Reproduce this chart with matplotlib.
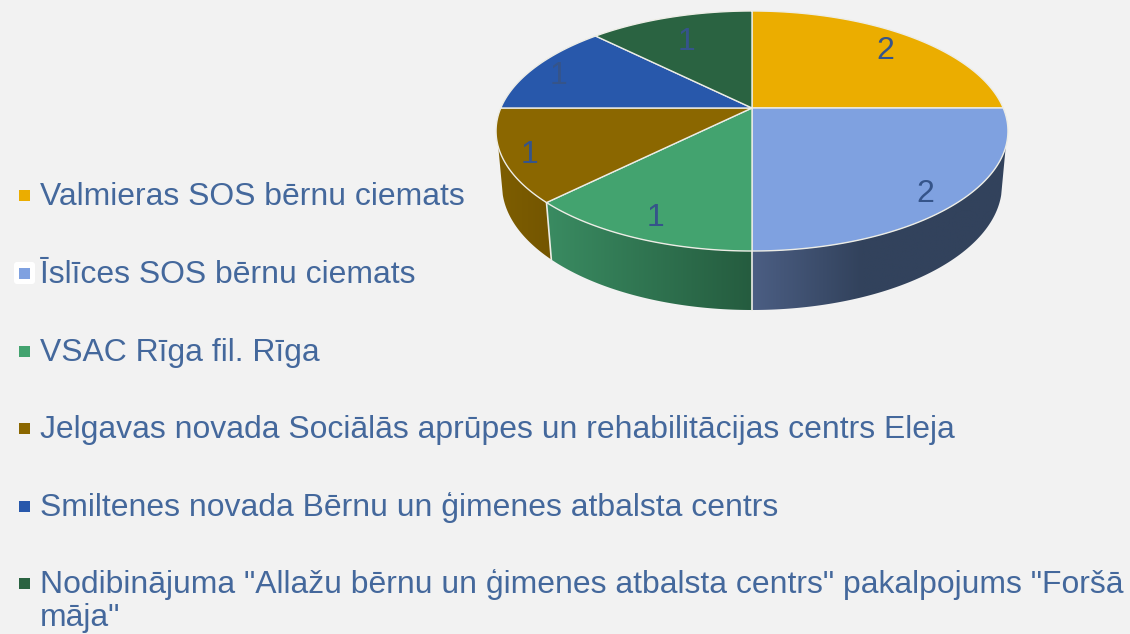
import numpy as np
import matplotlib
matplotlib.use("Agg")
import matplotlib.pyplot as plt
from matplotlib.patches import Polygon, Rectangle, FancyBboxPatch
from matplotlib.colors import LinearSegmentedColormap

categories = [
    "Valmieras SOS bērnu ciemats",
    "Īslīces SOS bērnu ciemats",
    "VSAC Rīga fil. Rīga",
    "Jelgavas novada Sociālās aprūpes un rehabilitācijas centrs Eleja",
    "Smiltenes novada Bērnu un ģimenes atbalsta centrs",
    "Nodibinājuma \"Allažu bērnu un ģimenes atbalsta centrs\" pakalpojums \"Foršā\nmāja\"",
]
values = [2, 2, 1, 1, 1, 1]
colors = ["#EBAD00", "#7FA1E0", "#43A36F", "#8B6700", "#2858AB", "#2A6341"]
label_r = [0.85, 0.87, 0.84, 0.89, 0.88, 0.75]

BG = "#F2F2F2"
TEXT = "#44689C"
LABEL = "#35548A"
EDGE = "#EDEDE6"

fig = plt.figure(figsize=(11.3, 6.34), dpi=100, facecolor=BG)
ax = fig.add_axes([0, 0, 1, 1])
ax.set_facecolor(BG)
ax.axis("off")
W, H = 1130, 634

# perspective disc: apex and projection parameters (pixels)
AX, AY = 752, 108
A, B, K = 251.2, 115.6, 0.1917
TCX, TCY, TRX, TRY = 752, 131, 256, 120
LCX, LCY, LRX, LRY = 752, 185, 250, 125


def project(theta, r=1.0):
    u, v = r * np.cos(theta), r * np.sin(theta)
    d = 1 + K * v
    return AX + A * u / d, AY - B * v / d


def rim_param(theta):
    x, y = project(theta)
    return np.arctan2((TCY - y) / TRY, (x - TCX) / TRX)


shares = np.array(values) / np.sum(values) * 2 * np.pi
ends = np.pi / 2 - np.cumsum(shares)
starts = ends + shares


def wall(t1, t2, l1, l2, stops, x0, x1, seam=True):
    t = np.linspace(t1, t2, 120)
    tl = np.linspace(l1, l2, 120)
    top = np.c_[TCX + TRX * np.cos(t), TCY - TRY * np.sin(t)]
    low = np.c_[LCX + LRX * np.cos(tl), LCY - LRY * np.sin(tl)][::-1]
    poly = Polygon(np.r_[top, low], closed=True, transform=ax.transData,
                   facecolor="none", edgecolor="none")
    ax.add_patch(poly)
    cmap = LinearSegmentedColormap.from_list("w", stops)
    im = ax.imshow(np.linspace(0, 1, 256)[None, :], cmap=cmap, aspect="auto",
                   extent=[x0, x1, 320, 100], zorder=1)
    im.set_clip_path(poly)
    if seam:
        ax.plot([top[-1, 0], low[0, 0]], [top[-1, 1], low[0, 1]], color=EDGE,
                lw=1.2, zorder=1.5)


vis = np.arcsin(16 / TRY)
vis_low = np.arcsin(10 / LRY)
tb_end = rim_param(ends[1])
tg_end = rim_param(ends[2])
wall(-vis, tb_end, -vis_low, tb_end,
     [(0, "#4D6086"), (0.44, "#32425C"), (1, "#32425C")], 745, 1010)
wall(tb_end, tg_end, tb_end, tg_end, [(0, "#255C3F"), (1, "#3A8C62")], 752, 544)
wall(tg_end, -np.pi + vis, tg_end, -np.pi + vis_low,
     [(0, "#735500"), (1, "#7E5E00")], 556, 494, seam=False)

# top faces
for s, e, c in zip(starts, ends, colors):
    th = np.linspace(s, e, 200)
    x, y = project(th)
    pts = np.c_[np.r_[AX, x], np.r_[AY, y]]
    ax.add_patch(Polygon(pts, closed=True, facecolor=c, edgecolor=EDGE,
                         lw=1.0, zorder=2, joinstyle="round"))

# data labels
for s, e, v, r in zip(starts, ends, values, label_r):
    x, y = project((s + e) / 2, r)
    ax.text(x - 2, y + 5, str(v), color=LABEL, fontsize=23, ha="center", va="center",
            family="Liberation Sans", zorder=3)

# legend
legend_y = [195, 273, 351, 428, 506, 583]
ax.add_patch(FancyBboxPatch((16, 264), 17, 18, boxstyle="round,pad=2,rounding_size=3",
                            facecolor="white", edgecolor="none", zorder=2))
for y, c, name in zip(legend_y, colors, categories):
    ax.add_patch(Rectangle((19, y - 5.5), 11, 11, facecolor=c, edgecolor="none", zorder=3))
    for i, line in enumerate(name.split("\n")):
        ax.text(40, y + 10 + i * 33, line, color=TEXT, fontsize=22.95, ha="left",
                va="baseline", family="Liberation Sans", zorder=3)

ax.set_xlim(0, W)
ax.set_ylim(H, 0)
fig.savefig("out.png", dpi=100, facecolor=BG)
